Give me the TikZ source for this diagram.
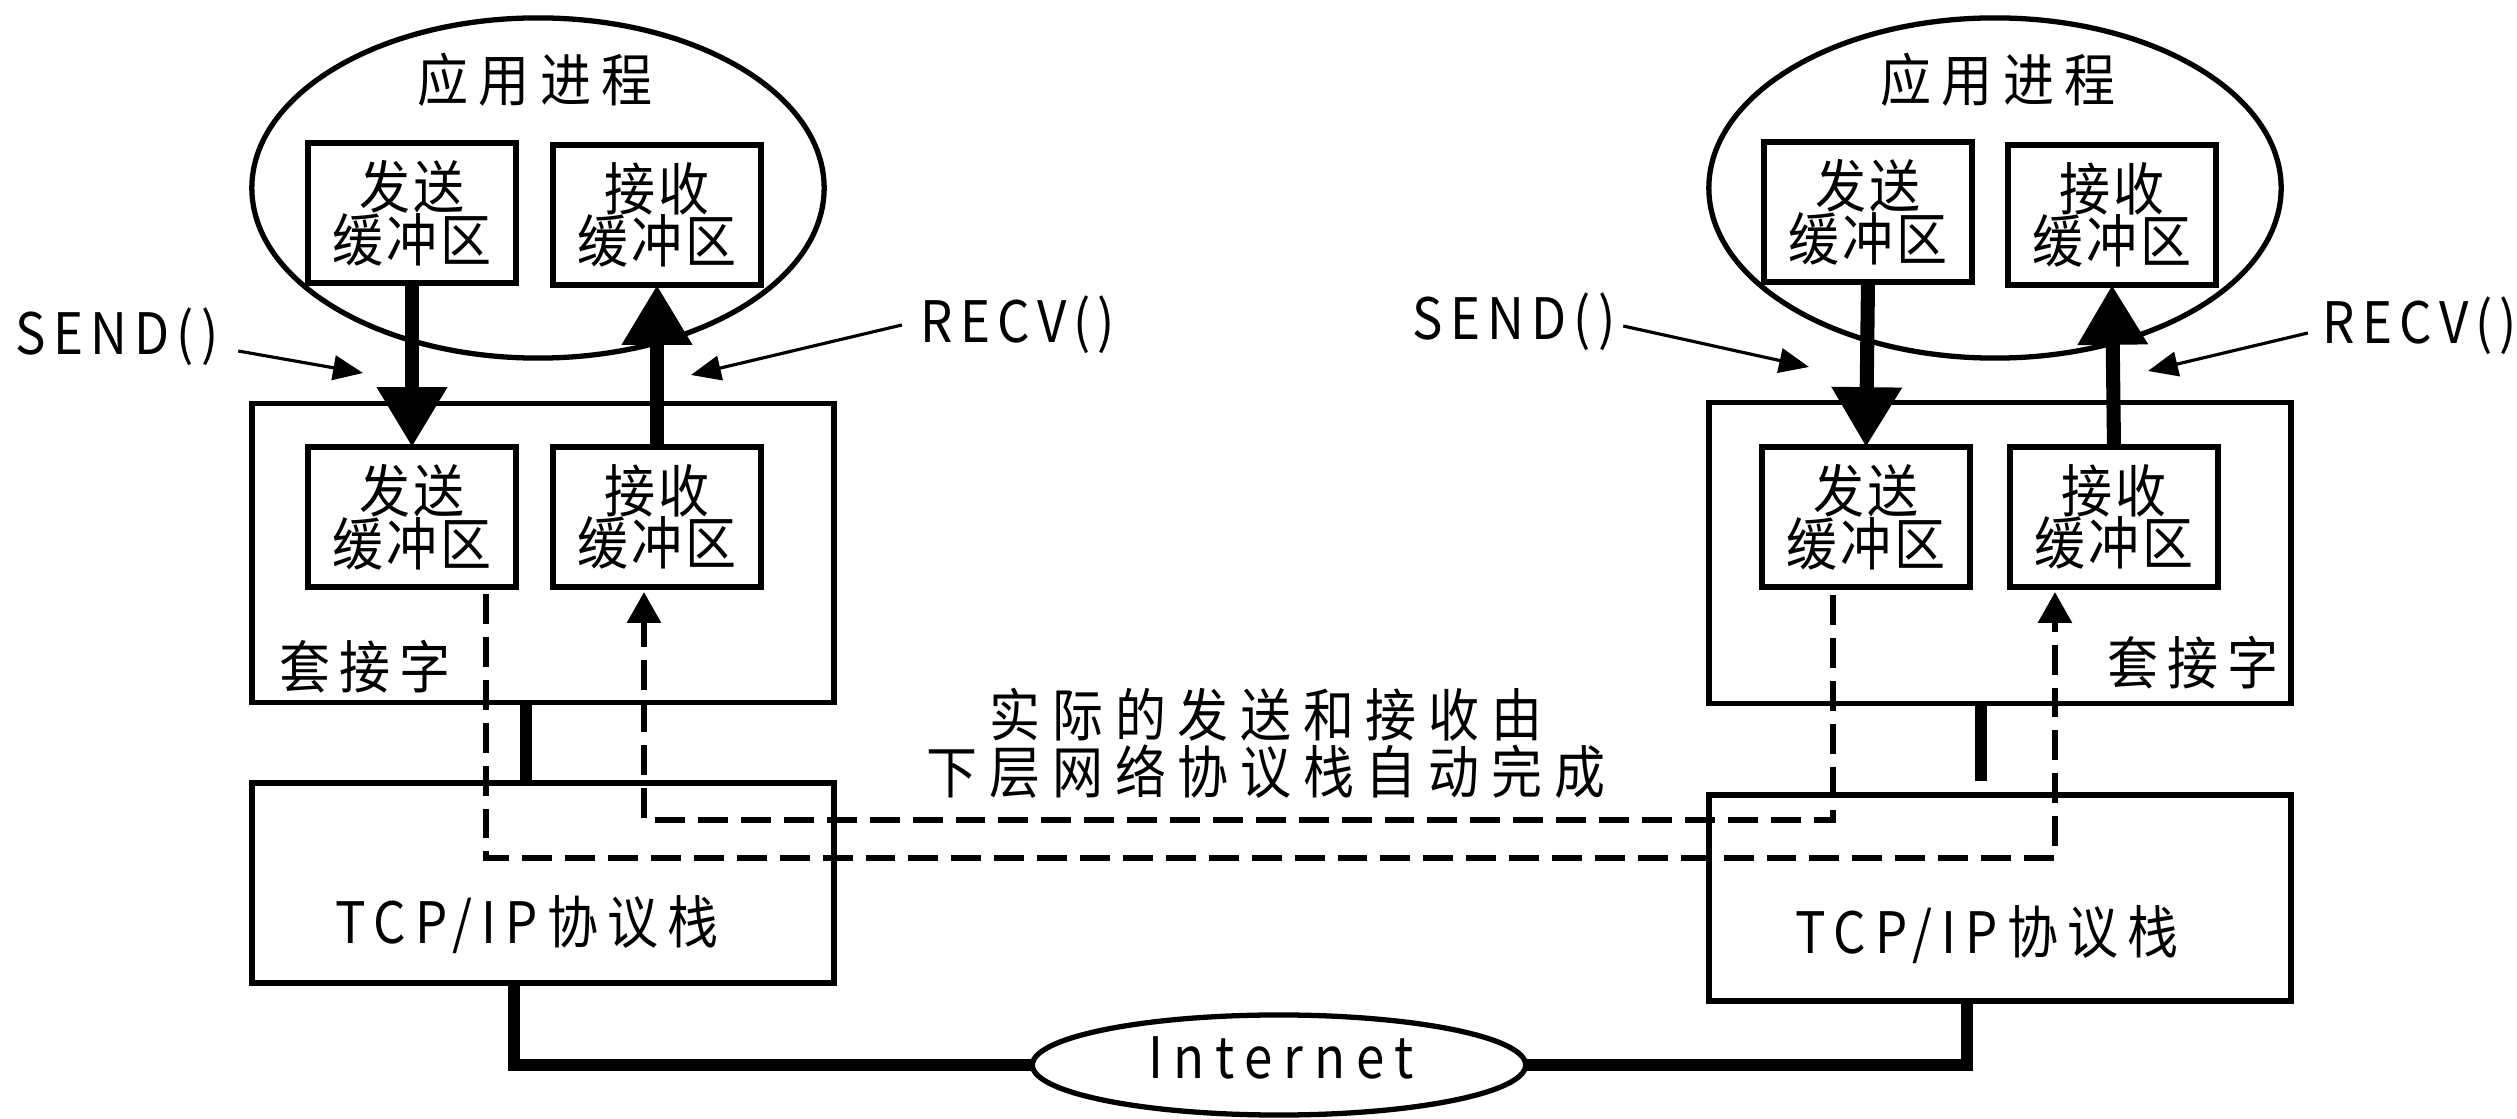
\documentclass[tikz,border=0pt]{standalone}
\usepackage{fontspec}
\usepackage{graphicx}
\newfontfamily\cjk{Noto Sans CJK SC}
\usetikzlibrary{arrows.meta,shapes.geometric}
\newcommand{\spc}[2]{\scalebox{1}[1.12]{\addfontfeatures{LetterSpace=#1}#2}}
\begin{document}
\begin{tikzpicture}[x=0.01cm,y=-0.01cm,
  every node/.style={font=\cjk\fontsize{14.5}{15}\selectfont, inner sep=0pt, outer sep=0pt},
  bufbox/.style={draw, line width=1.6pt, minimum width=2.08cm, minimum height=1.40cm, align=center},
  bigbox/.style={draw, line width=1.6pt, minimum width=5.82cm},
  app/.style={draw, ellipse, line width=1.5pt, minimum width=5.72cm, minimum height=3.40cm},
  bigarrow/.style={line width=4pt, -{Triangle[length=17pt,width=19pt]}},
  link/.style={line width=3.6pt},
  pointer/.style={line width=0.9pt, -{Triangle[length=8.5pt,width=7pt]}},
  dashline/.style={line width=1.7pt, dash pattern=on 8.5pt off 3.7pt},
  dasharrow/.style={dashline, -{Triangle[length=8.8pt,width=9.4pt]}},
]
\useasboundingbox (0,0) rectangle (2517,1119);

% ---------- left host ----------
\node[app] (lapp) at (538,188) {};
\node (ltitle) at (535,80) {\spc{20}{应用进程}};
\node[bufbox] (lasb) at (412,213) {\spc{6}{发送}\\\spc{6}{缓冲区}};
\node[bufbox] (larb) at (657,215) {\spc{6}{接收}\\\spc{6}{缓冲区}};
\node[bigbox, minimum height=2.99cm] (lsock) at (543,553) {};
\node[bufbox] (lssb) at (412,517) {\spc{6}{发送}\\\spc{6}{缓冲区}};
\node[bufbox] (lsrb) at (657,517) {\spc{6}{接收}\\\spc{6}{缓冲区}};
\node (lsocklabel) at (365,667) {\spc{18}{套接字}};
\node[bigbox, minimum height=2.00cm] (ltcp) at (543,883) {};
\node (ltcplabel) at (527,925) {\spc{18}{TCP/IP协议栈}};
\node (lsend) at (117,337) {\spc{14}{SEND()}};
\node (lrecv) at (1018,325) {\spc{14}{RECV()}};
\coordinate (lsendtip) at (363,373);
\coordinate (lrecvtip) at (691,375);

% ---------- right host ----------
\node[app] (rapp) at (1995,188) {};
\node (rtitle) at (1998,80) {\spc{20}{应用进程}};
\node[bufbox] (rasb) at (1868,212) {\spc{6}{发送}\\\spc{6}{缓冲区}};
\node[bufbox] (rarb) at (2112,215) {\spc{6}{接收}\\\spc{6}{缓冲区}};
\node[bigbox, minimum height=3.01cm] (rsock) at (2000,553) {};
\node[bufbox] (rssb) at (1866,517) {\spc{6}{发送}\\\spc{6}{缓冲区}};
\node[bufbox] (rsrb) at (2114,517) {\spc{6}{接收}\\\spc{6}{缓冲区}};
\node (rsocklabel) at (2193,663) {\spc{18}{套接字}};
\node[bigbox, minimum height=2.06cm] (rtcp) at (2000,898) {};
\node (rtcplabel) at (1987,935) {\spc{18}{TCP/IP协议栈}};
\node (rsend) at (1514,322) {\spc{14}{SEND()}};
\node (rrecv) at (2420,326) {\spc{14}{RECV()}};
\coordinate (rsendtip) at (1809,367);
\coordinate (rrecvtip) at (2148,371);

% ---------- middle ----------
\node[draw, ellipse, line width=1.5pt, minimum width=4.93cm, minimum height=1.00cm] (inet) at (1279,1065) {};
\node (inettext) at (1281,1058) {\spc{21}{Internet}};
\node[align=center, font=\cjk\fontsize{14.5}{16.2}\selectfont] (note) at (1266,743)
  {\spc{23}{实际的发送和接收由}\\\spc{23}{下层网络协议栈自动完成}};

% ---------- thick arrows ----------
\draw[bigarrow] (lasb.south) -- (lssb.north);
\draw[bigarrow] (lsrb.north) -- (larb.south);
\draw[bigarrow] (rasb.south) -- (rssb.north);
\draw[bigarrow] (rsrb.north) -- (rarb.south);

% ---------- pointers ----------
\draw[pointer] ([xshift=0.2cm,yshift=-0.14cm]lsend.east) -- (lsendtip);
\draw[pointer] ([xshift=-0.19cm]lrecv.west) -- (lrecvtip);
\draw[pointer] ([xshift=0.08cm,yshift=-0.04cm]rsend.east) -- (rsendtip);
\draw[pointer] ([xshift=-0.15cm,yshift=-0.07cm]rrecv.west) -- (rrecvtip);

% ---------- links ----------
\draw[link] ([xshift=-0.17cm]lsock.south) -- ([xshift=-0.17cm]ltcp.north);
\draw[link] ([xshift=-0.19cm]rsock.south) -- ([xshift=-0.19cm,yshift=0.14cm]rtcp.north);
\draw[link] ([xshift=-0.29cm]ltcp.south) |- (inet.west);
\draw[link] ([xshift=-0.33cm]rtcp.south) |- (inet.east);

% ---------- dashed data paths ----------
\draw[dasharrow] ([xshift=0.74cm,yshift=-0.07cm]lssb.south) -- ++(0,264) -| ([xshift=-0.59cm,yshift=-0.05cm]rsrb.south);
\draw[dasharrow] ([xshift=-0.33cm,yshift=-0.08cm]rssb.south) -- ++(0,225) -| ([xshift=-0.13cm,yshift=-0.05cm]lsrb.south);
\end{tikzpicture}
\end{document}
